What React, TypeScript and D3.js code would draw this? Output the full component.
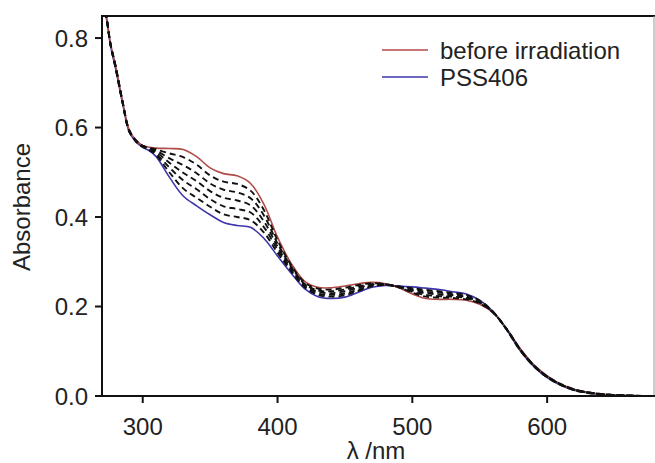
import React from "react";
import * as d3 from "d3";

const wavelengths = [270, 273, 276, 280, 285, 290, 295, 300, 305, 310, 320, 330, 340, 350, 360, 370, 380, 390, 400, 410, 420, 430, 440, 450, 460, 470, 480, 490, 500, 510, 520, 530, 540, 550, 560, 570, 580, 590, 600, 610, 620, 635, 650, 665, 680];

const beforeIrradiation = [0.88, 0.849, 0.79, 0.737, 0.66, 0.595, 0.572, 0.56, 0.556, 0.554, 0.553, 0.551, 0.535, 0.51, 0.497, 0.492, 0.475, 0.428, 0.355, 0.297, 0.257, 0.243, 0.242, 0.246, 0.251, 0.254, 0.251, 0.242, 0.228, 0.218, 0.216, 0.216, 0.214, 0.205, 0.186, 0.15, 0.106, 0.07, 0.045, 0.027, 0.015, 0.006, 0.002, 0.0005, 0];

const pss406 = [0.88, 0.845, 0.785, 0.73, 0.655, 0.59, 0.568, 0.556, 0.548, 0.535, 0.488, 0.447, 0.425, 0.405, 0.388, 0.381, 0.377, 0.352, 0.313, 0.275, 0.24, 0.222, 0.218, 0.221, 0.232, 0.243, 0.247, 0.246, 0.244, 0.241, 0.238, 0.233, 0.228, 0.214, 0.188, 0.148, 0.101, 0.066, 0.041, 0.024, 0.013, 0.005, 0.0015, 0.0005, 0];

const step1 = [0.88, 0.848, 0.789, 0.736, 0.659, 0.594, 0.571, 0.559, 0.555, 0.551, 0.542, 0.534, 0.517, 0.493, 0.479, 0.474, 0.459, 0.415, 0.348, 0.293, 0.254, 0.24, 0.238, 0.242, 0.248, 0.252, 0.25, 0.243, 0.231, 0.222, 0.22, 0.219, 0.216, 0.207, 0.186, 0.15, 0.105, 0.069, 0.044, 0.027, 0.015, 0.006, 0.002, 0.0005, 0];
const step2 = [0.88, 0.848, 0.788, 0.735, 0.658, 0.593, 0.571, 0.559, 0.553, 0.548, 0.531, 0.516, 0.498, 0.475, 0.461, 0.455, 0.442, 0.403, 0.341, 0.29, 0.251, 0.236, 0.234, 0.238, 0.245, 0.25, 0.25, 0.243, 0.233, 0.226, 0.223, 0.222, 0.219, 0.208, 0.187, 0.149, 0.104, 0.069, 0.044, 0.026, 0.014, 0.006, 0.002, 0.0005, 0];
const step3 = [0.88, 0.847, 0.788, 0.734, 0.658, 0.593, 0.57, 0.558, 0.552, 0.545, 0.521, 0.499, 0.48, 0.458, 0.443, 0.437, 0.426, 0.39, 0.334, 0.286, 0.249, 0.233, 0.23, 0.234, 0.242, 0.249, 0.249, 0.244, 0.236, 0.23, 0.227, 0.225, 0.221, 0.21, 0.187, 0.149, 0.104, 0.068, 0.043, 0.026, 0.014, 0.006, 0.002, 0.0005, 0];
const step4 = [0.88, 0.846, 0.787, 0.732, 0.657, 0.592, 0.569, 0.557, 0.551, 0.541, 0.51, 0.482, 0.462, 0.44, 0.424, 0.418, 0.41, 0.377, 0.327, 0.282, 0.246, 0.229, 0.226, 0.229, 0.238, 0.247, 0.248, 0.245, 0.239, 0.233, 0.231, 0.227, 0.223, 0.211, 0.187, 0.149, 0.103, 0.067, 0.042, 0.025, 0.014, 0.005, 0.002, 0.0005, 0];
const step5 = [0.88, 0.846, 0.786, 0.731, 0.656, 0.591, 0.569, 0.557, 0.549, 0.538, 0.499, 0.464, 0.443, 0.423, 0.406, 0.4, 0.393, 0.365, 0.32, 0.279, 0.243, 0.226, 0.222, 0.225, 0.235, 0.245, 0.248, 0.245, 0.241, 0.237, 0.234, 0.23, 0.226, 0.213, 0.188, 0.148, 0.102, 0.067, 0.042, 0.025, 0.013, 0.005, 0.002, 0.0005, 0];

const dashedSeries = [step1, step2, step3, step4, step5];

const xTicks = [300, 400, 500, 600];
const yTicks = [0.0, 0.2, 0.4, 0.6, 0.8];
const legendLabels = ["before irradiation", "PSS406"];

const W = 655;
const H = 463;
const left = 102;
const right = 654;
const top = 16;
const bottom = 396;

const RED = "#b04a48";
const BLUE = "#3d36aa";
const FONT = "'Liberation Sans', Arial, Helvetica, sans-serif";

export default function App() {
  const x = d3.scaleLinear().domain([269.8, 680]).range([left, right + 1]);
  const y = d3.scaleLinear().domain([0, 0.8493]).range([bottom, top]);
  const line = (vals: number[]) =>
    d3
      .line<number>()
      .x((_, i) => x(wavelengths[i]))
      .y((v) => y(v))
      .curve(d3.curveCatmullRom.alpha(0.5))(vals) || "";

  return (
    <svg
      width={W}
      height={H}
      style={{ position: "absolute", left: 0, top: 0, background: "#fff" }}
      fontFamily={FONT}
    >
      <defs>
        <clipPath id="plot">
          <rect x={left} y={top} width={right - left} height={bottom - top} />
        </clipPath>
      </defs>
      <rect x={0} y={0} width={W} height={H} fill="#fff" />
      <g clipPath="url(#plot)" fill="none">
        <path d={line(pss406)} stroke={BLUE} strokeWidth={1.6} />
        <path d={line(beforeIrradiation)} stroke={RED} strokeWidth={1.6} />
        {dashedSeries.map((s, i) => (
          <path key={i} d={line(s)} stroke="#111" strokeWidth={1.9} strokeDasharray="6 4" />
        ))}
      </g>
      {/* frame */}
      <line x1={left} x2={right + 1} y1={top} y2={top} stroke="#111" strokeWidth={2} />
      <line x1={right} x2={right} y1={top} y2={bottom} stroke="#999" strokeWidth={1} />
      <line x1={left} x2={left} y1={top - 1} y2={bottom + 1} stroke="#111" strokeWidth={2} />
      <line x1={left - 1} x2={right + 1} y1={bottom} y2={bottom} stroke="#111" strokeWidth={2} />
      {/* y ticks */}
      {yTicks.map((t) => (
        <g key={t}>
          <line x1={left - 7} x2={left} y1={y(t)} y2={y(t)} stroke="#111" strokeWidth={2} />
          <text x={left - 14} y={y(t)} dy="0.36em" textAnchor="end" fontSize={24} fill="#222">
            {t.toFixed(1)}
          </text>
        </g>
      ))}
      {/* x ticks */}
      {xTicks.map((t) => (
        <g key={t}>
          <line x1={x(t)} x2={x(t)} y1={bottom} y2={bottom + 7} stroke="#111" strokeWidth={2} />
          <text x={x(t)} y={435} textAnchor="middle" fontSize={24} fill="#222">
            {t}
          </text>
        </g>
      ))}
      <text x={376} y={459} textAnchor="middle" fontSize={24} fill="#222">
        λ /nm
      </text>
      <text
        transform={`translate(30,207) rotate(-90)`}
        textAnchor="middle"
        fontSize={24}
        fill="#222"
      >
        Absorbance
      </text>
      {/* legend */}
      {legendLabels.map((lab, i) => (
        <g key={lab}>
          <line
            x1={382}
            x2={428}
            y1={50 + i * 27}
            y2={50 + i * 27}
            stroke={i === 0 ? RED : BLUE}
            strokeWidth={1.6}
          />
          <text x={440} y={50 + i * 27} dy="0.36em" fontSize={24} fill="#222">
            {lab}
          </text>
        </g>
      ))}
    </svg>
  );
}
